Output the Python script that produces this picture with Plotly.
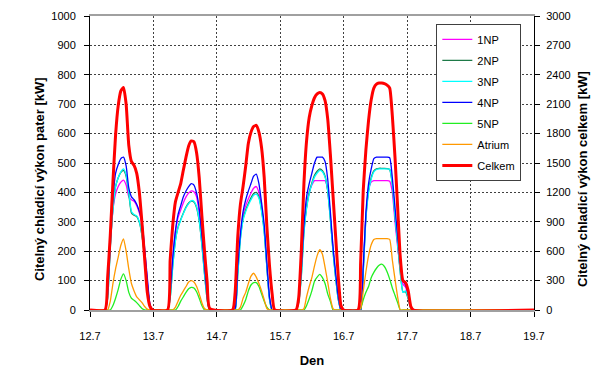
import plotly.graph_objects as go

# ---------------- data ----------------
x_start, x_end = 12.7, 19.7
hump_start = [12.9365, 13.922, 14.9466, 15.9477, 16.925]   # day of each cooling period start
step = 1 / 24                                               # hourly values

np1 = [
    [0, 55, 220, 340, 395, 420, 435, 442, 425, 385, 375, 370, 355, 330, 290, 200, 100, 18, 0],
    [0, 60, 175, 265, 315, 340, 365, 385, 398, 405, 402, 385, 330, 245, 140, 45, 0],
    [0, 5, 145, 255, 325, 355, 378, 398, 414, 420, 400, 350, 275, 150, 40, 0, 0],
    [0, 35, 130, 275, 350, 400, 425, 440, 440, 440, 440, 440, 410, 320, 210, 115, 40, 0, 0],
    [0, 0, 140, 320, 410, 435, 440, 440, 440, 440, 440, 440, 438, 400, 300, 215, 140, 88, 78, 48, 8, 0],
]
np2 = [
    [0, 40, 215, 345, 420, 450, 468, 475, 455, 395, 330, 322, 318, 298, 252, 178, 88, 14, 0],
    [0, 40, 152, 238, 283, 308, 330, 350, 364, 370, 367, 348, 302, 222, 122, 36, 0],
    [0, 0, 125, 245, 310, 340, 362, 382, 396, 400, 385, 340, 268, 148, 38, 0, 0],
    [0, 25, 115, 265, 350, 400, 432, 458, 472, 480, 474, 455, 405, 310, 200, 110, 35, 0, 0],
    [0, 0, 135, 315, 405, 450, 473, 480, 482, 482, 482, 481, 478, 428, 318, 228, 128, 62, 62, 38, 5, 0],
]
np3 = [
    [0, 40, 210, 340, 420, 450, 470, 480, 460, 400, 335, 325, 320, 300, 255, 180, 90, 15, 0],
    [0, 40, 150, 235, 280, 305, 328, 348, 362, 372, 370, 352, 305, 225, 125, 38, 0],
    [0, 0, 120, 240, 305, 335, 357, 375, 390, 394, 380, 335, 265, 145, 35, 0, 0],
    [0, 25, 110, 260, 345, 395, 428, 452, 466, 475, 470, 452, 405, 310, 200, 110, 35, 0, 0],
    [0, 0, 130, 310, 400, 445, 470, 478, 480, 480, 480, 480, 478, 430, 320, 225, 130, 60, 65, 40, 5, 0],
]
np4 = [
    [0, 60, 240, 380, 465, 495, 515, 520, 490, 415, 385, 375, 360, 335, 300, 210, 110, 20, 0],
    [0, 60, 180, 270, 325, 355, 385, 405, 420, 430, 425, 398, 345, 255, 150, 50, 0],
    [0, 5, 150, 260, 335, 375, 405, 430, 455, 462, 430, 365, 290, 160, 45, 0, 0],
    [0, 40, 140, 290, 385, 430, 465, 500, 520, 520, 520, 505, 445, 335, 215, 125, 45, 0, 0],
    [0, 0, 150, 330, 430, 480, 515, 520, 520, 520, 520, 520, 518, 450, 350, 250, 165, 100, 85, 55, 10, 0],
]
np5 = [
    [0, 0, 0, 15, 40, 70, 105, 123, 100, 60, 40, 33, 25, 15, 5, 0, 0, 0, 0],
    [0, 0, 0, 0, 12, 30, 45, 60, 72, 77, 75, 62, 40, 15, 0, 0, 0],
    [0, 0, 0, 0, 15, 35, 65, 85, 93, 93, 80, 55, 30, 10, 0, 0, 0],
    [0, 0, 0, 0, 15, 38, 65, 98, 112, 121, 110, 90, 55, 30, 0, 0, 0, 0, 0],
    [0, 5, 35, 60, 80, 110, 128, 142, 152, 156, 148, 130, 105, 75, 50, 25, 0, 0, 0, 0, 0, 0],
]
atrium = [
    [0, 0, 30, 90, 140, 180, 220, 242, 200, 140, 90, 65, 45, 35, 25, 12, 3, 0, 0],
    [0, 0, 0, 10, 30, 50, 65, 80, 95, 100, 95, 80, 55, 25, 5, 0, 0],
    [0, 0, 0, 10, 40, 60, 90, 115, 125, 112, 90, 65, 35, 5, 0, 0, 0],
    [0, 0, 0, 5, 45, 80, 110, 150, 185, 205, 190, 145, 95, 40, 5, 0, 0, 0, 0],
    [0, 5, 65, 130, 185, 222, 240, 243, 243, 243, 243, 243, 240, 170, 105, 45, 0, 0, 0, 0, 0, 0],
]
celkem = [  # kW, right axis
    [0, 330, 765, 1305, 1785, 2085, 2235, 2271, 2100, 1680, 1515, 1476, 1395, 1200, 885, 525, 180, 36, 0],
    [0, 510, 870, 1104, 1200, 1290, 1428, 1560, 1674, 1725, 1716, 1605, 1350, 960, 600, 285, 15],
    [0, 180, 750, 1080, 1260, 1470, 1701, 1815, 1872, 1884, 1815, 1656, 1350, 855, 450, 165, 0],
    [0, 120, 600, 1290, 1725, 1965, 2085, 2166, 2205, 2220, 2205, 2136, 1950, 1590, 1170, 750, 339, 45, 0],
    [0, 480, 1224, 1635, 1935, 2145, 2265, 2304, 2316, 2316, 2310, 2295, 2265, 1980, 1560, 1050, 540, 300, 279, 195, 36, 0],
]

names = ["1NP", "2NP", "3NP", "4NP", "5NP", "Atrium", "Celkem"]
colors = ["#FF00FF", "#1E7A48", "#00FFFF", "#0000FF", "#22EE22", "#FF9900", "#FF0000"]
series = [np1, np2, np3, np4, np5, atrium, celkem]

x_ticks = [12.7, 13.7, 14.7, 15.7, 16.7, 17.7, 18.7, 19.7]
x_tick_labels = ["12.7", "13.7", "14.7", "15.7", "16.7", "17.7", "18.7", "19.7"]
left_title = "Citelný chladicí výkon pater [kW]"
right_title = "Citelný chladicí výkon celkem [kW]"


def build(humps):
    xs, ys = [x_start], [0]
    for s, vals in zip(hump_start, humps):
        for i, v in enumerate(vals):
            xs.append(s + i * step)
            ys.append(v)
    xs.append(x_end)
    ys.append(0)
    return xs, ys


fig = go.Figure()
for k, (name, col, data) in enumerate(zip(names, colors, series)):
    xs, ys = build(data)
    is_total = name == "Celkem"
    fig.add_trace(go.Scatter(
        x=xs, y=ys, name=name, mode="lines",
        line=dict(color=col, width=3 if is_total else 1.3, shape="spline", smoothing=0.5),
        yaxis="y2" if is_total else "y",
        legendgroup=name,
    ))

font = "Liberation Sans, Arial, sans-serif"
grid_dash = "2px,2px"
# the page body adds an 8 px offset, so the figure is 592x361
fig.update_layout(
    width=592, height=361,
    margin=dict(l=82, r=66, t=8, b=59, autoexpand=False),
    paper_bgcolor="white", plot_bgcolor="white",
    font=dict(family=font, size=11, color="black"),
    showlegend=True,
    legend=dict(
        x=0.78, y=0.973, xanchor="left", yanchor="top",
        bgcolor="white", bordercolor="#404040", borderwidth=1,
        font=dict(size=11, family=font, color="black"),
        itemwidth=30, tracegroupgap=2, traceorder="grouped",
    ),
    xaxis=dict(
        range=[x_start, x_end], tickvals=x_ticks, ticktext=x_tick_labels,
        showgrid=True, gridcolor="#404040", griddash=grid_dash, gridwidth=1,
        showline=True, linecolor="#A0A0A0", linewidth=2, mirror=True,
        ticks="outside", ticklen=5, tickcolor="black", ticklabelstandoff=10,
        zeroline=False, layer="below traces", automargin=False,
        title=dict(text="<b>Den</b>", font=dict(size=13, family=font), standoff=15),
        tickfont=dict(size=11),
    ),
    yaxis=dict(
        range=[0, 1000], dtick=100, tick0=0,
        showgrid=True, gridcolor="#404040", griddash=grid_dash, gridwidth=1,
        showline=True, linecolor="black", linewidth=1,
        ticks="outside", ticklen=5, tickcolor="black", ticklabelstandoff=6,
        zeroline=False, automargin=False,
        tickfont=dict(size=11),
    ),
    yaxis2=dict(
        range=[0, 3000], dtick=300, tick0=0, overlaying="y", side="right",
        showgrid=False, showline=True, linecolor="black", linewidth=1,
        ticks="outside", ticklen=5, tickcolor="black", ticklabelstandoff=4,
        zeroline=False, automargin=False,
        tickfont=dict(size=11),
    ),
    annotations=[
        dict(text="<b>" + left_title + "</b>", textangle=-90, xref="paper", yref="paper",
             x=-0.115, y=0.445, xanchor="center", yanchor="middle", showarrow=False,
             font=dict(size=13, family=font, color="black")),
        dict(text="<b>" + right_title + "</b>", textangle=-90, xref="paper", yref="paper",
             x=1.108, y=0.445, xanchor="center", yanchor="middle", showarrow=False,
             font=dict(size=13, family=font, color="black")),
    ],
)

fig.write_html("out.html")
